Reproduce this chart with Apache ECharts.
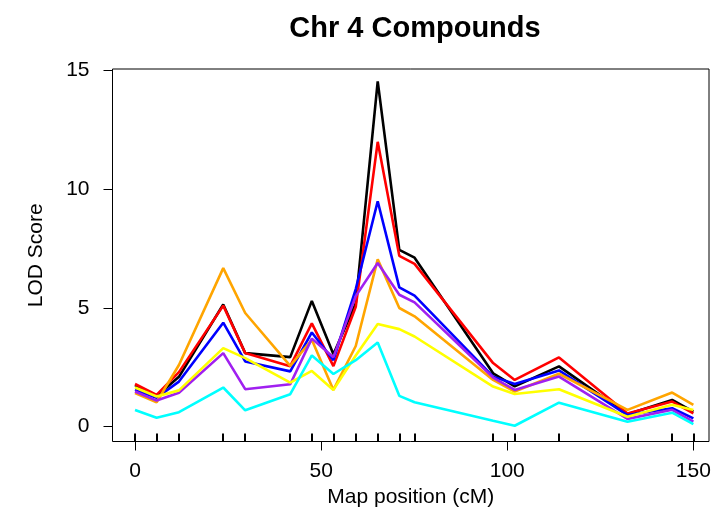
<!DOCTYPE html>
<html>
<head>
<meta charset="utf-8">
<script src="https://cdn.jsdelivr.net/npm/echarts@6/dist/echarts.min.js"></script>
<style>html,body{margin:0;padding:0;background:#fff}#c{width:719px;height:531px}</style>
</head>
<body>
<div id="c"></div>
<script>
// Marker positions (cM)
var positions = [0, 5.8, 11.8, 23.7, 29.6, 41.7, 47.5, 53.3, 59.3, 65.2, 71.0, 75.1, 96.2, 102.0, 113.9, 132.3, 144.3, 150.0];
// LOD scores per trait
var lodBlack  = [1.75, 1.28, 2.10, 5.15, 3.10, 2.93, 5.30, 3.05, 5.20, 14.55, 7.45, 7.12, 2.25, 1.70, 2.54, 0.52, 1.13, 0.63];
var lodRed    = [1.80, 1.34, 2.30, 5.10, 3.10, 2.55, 4.35, 2.55, 5.05, 12.00, 7.20, 6.86, 2.68, 1.97, 2.92, 0.56, 1.06, 0.56];
var lodBlue   = [1.55, 1.22, 1.90, 4.38, 2.75, 2.33, 3.97, 2.80, 5.80, 9.50, 5.87, 5.52, 2.11, 1.80, 2.37, 0.49, 0.78, 0.35];
var lodOrange = [1.42, 1.03, 2.60, 6.68, 4.79, 2.56, 3.66, 1.55, 3.40, 7.05, 5.00, 4.65, 1.97, 1.48, 2.23, 0.71, 1.44, 0.92];
var lodPurple = [1.48, 1.10, 1.43, 3.10, 1.58, 1.79, 3.71, 2.93, 5.50, 6.90, 5.56, 5.24, 2.07, 1.55, 2.11, 0.33, 0.71, 0.21];
var lodYellow = [1.65, 1.27, 1.53, 3.31, 2.89, 1.86, 2.35, 1.55, 3.00, 4.33, 4.11, 3.80, 1.69, 1.38, 1.58, 0.42, 0.92, 0.70];
var lodCyan   = [0.70, 0.38, 0.61, 1.65, 0.69, 1.37, 3.00, 2.22, 2.80, 3.55, 1.30, 1.03, 0.25, 0.04, 1.01, 0.21, 0.59, 0.11];
var xTicks = [0, 50, 100, 150];
var yTicks = [0, 5, 10, 15];

var seriesDefs = [
  {name: 'black', data: lodBlack, color: '#000000'},
  {name: 'red', data: lodRed, color: '#FF0000'},
  {name: 'blue', data: lodBlue, color: '#0000FF'},
  {name: 'orange', data: lodOrange, color: '#FFA500'},
  {name: 'purple', data: lodPurple, color: '#A020F0'},
  {name: 'yellow', data: lodYellow, color: '#FFFF00'},
  {name: 'cyan', data: lodCyan, color: '#00FFFF'}
];

var FONT = '"Liberation Sans", Arial, Helvetica, sans-serif';
var chart = echarts.init(document.getElementById('c'), null, {renderer: 'canvas'});

var series = seriesDefs.map(function (s) {
  return {
    name: s.name,
    type: 'line',
    xAxisIndex: 0,
    yAxisIndex: 0,
    data: positions.map(function (p, i) { return [p, s.data[i]]; }),
    showSymbol: false,
    symbol: 'none',
    lineStyle: {color: s.color, width: 2.6},
    itemStyle: {color: s.color},
    animation: false,
    silent: true
  };
});

chart.setOption({
  animation: false,
  backgroundColor: '#ffffff',
  title: {
    text: 'Chr 4 Compounds',
    left: 410,
    top: 9,
    textAlign: 'center',
    textStyle: {fontFamily: FONT, fontWeight: 'bold', fontSize: 29, color: '#000'}
  },
  grid: {
    left: 112.5, right: 10, top: 69, bottom: 89.5,
    show: true, borderColor: '#000', borderWidth: 1, backgroundColor: 'transparent'
  },
  xAxis: [{
    type: 'value',
    min: -6.05, max: 154.2,
    position: 'bottom',
    name: 'Map position (cM)',
    nameLocation: 'middle',
    nameGap: 39,
    nameTextStyle: {fontFamily: FONT, fontSize: 21, color: '#000'},
    axisLine: {show: false, onZero: false},
    axisTick: {show: true, inside: false, length: 9, customValues: xTicks, lineStyle: {color: '#000', width: 1}},
    axisLabel: {show: true, customValues: xTicks, margin: 19, fontFamily: FONT, fontSize: 21, color: '#000'},
    splitLine: {show: false}
  }, {
    type: 'value',
    min: -6.05, max: 154.2,
    position: 'bottom',
    axisLine: {show: false, onZero: false},
    axisTick: {show: true, inside: true, length: 8, customValues: positions, lineStyle: {color: '#000', width: 2}},
    axisLabel: {show: false},
    splitLine: {show: false}
  }],
  yAxis: [{
    type: 'value',
    min: -0.624, max: 15.07,
    position: 'left',
    name: 'LOD Score',
    nameLocation: 'middle',
    nameRotate: 90,
    nameGap: 66,
    nameTextStyle: {fontFamily: FONT, fontSize: 21, color: '#000'},
    axisLine: {show: false, onZero: false},
    axisTick: {show: true, inside: false, length: 9, customValues: yTicks, lineStyle: {color: '#000', width: 1}},
    axisLabel: {show: true, customValues: yTicks, margin: 23, fontFamily: FONT, fontSize: 21, color: '#000'},
    splitLine: {show: false}
  }],
  series: series
});
</script>
</body>
</html>
